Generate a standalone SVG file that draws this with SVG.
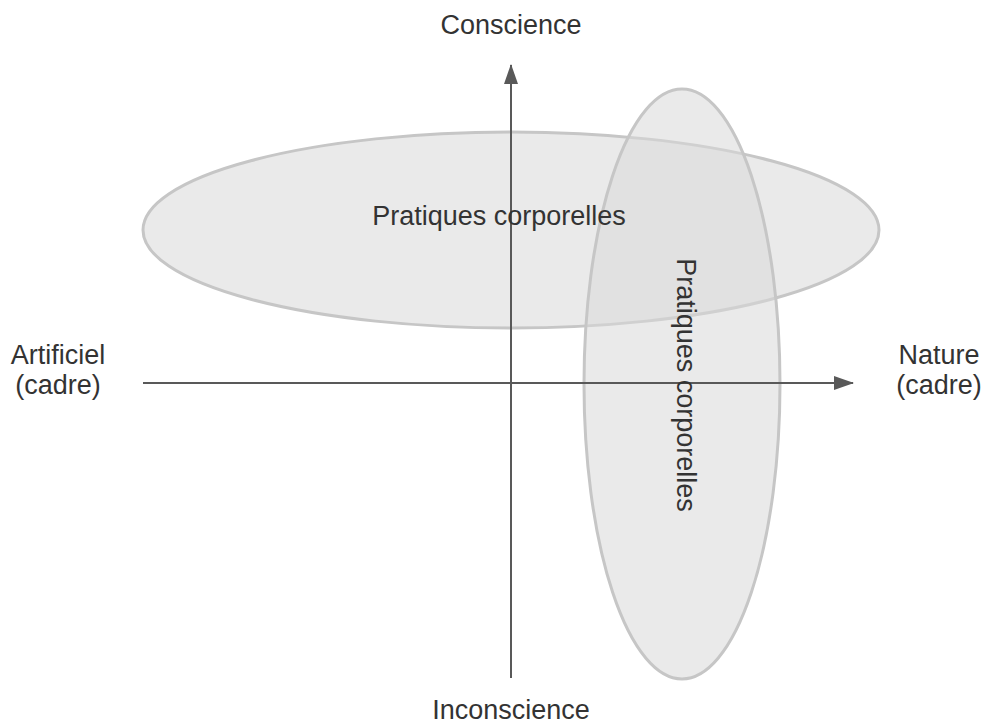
<svg xmlns="http://www.w3.org/2000/svg" width="983" height="722" viewBox="0 0 983 722">
<style>
text{font-family:"Liberation Sans",Arial,sans-serif;font-size:27px;fill:#333}
.blob{fill:#d9d9d9;fill-opacity:0.55;stroke:#c6c6c6;stroke-width:3}
.axis{stroke:#595959;stroke-width:2;fill:none}
</style>
<defs>
<marker id="arr" viewBox="0 0 20 14" refX="19" refY="7" markerWidth="20" markerHeight="14" markerUnits="userSpaceOnUse" orient="auto">
<path d="M0,0 L20,7 L0,14 Z" fill="#595959"/>
</marker>
</defs>
<rect width="983" height="722" fill="#fff"/>
<g id="ellipse-h">
<ellipse class="blob" cx="511" cy="230" rx="368" ry="98"/>
</g>
<g id="ellipse-v">
<ellipse class="blob" cx="682" cy="384" rx="98" ry="295"/>
</g>
<g id="connectors">
<line class="axis" x1="511" y1="678" x2="511" y2="65" marker-end="url(#arr)"/>
<line class="axis" x1="143" y1="383" x2="853" y2="383" marker-end="url(#arr)"/>
</g>
<g id="label-h"><text x="499" y="225" text-anchor="middle">Pratiques corporelles</text></g>
<g id="label-v"><text transform="translate(677,385) rotate(90)" text-anchor="middle">Pratiques corporelles</text></g>
<g id="conscience"><text x="511" y="34" text-anchor="middle">Conscience</text></g>
<g id="inconscience"><text x="511" y="719" text-anchor="middle">Inconscience</text></g>
<g id="artificiel"><text x="58" y="364" text-anchor="middle">Artificiel</text><text x="58" y="394" text-anchor="middle">(cadre)</text></g>
<g id="nature"><text x="939" y="364" text-anchor="middle">Nature</text><text x="939" y="394" text-anchor="middle">(cadre)</text></g>
</svg>
